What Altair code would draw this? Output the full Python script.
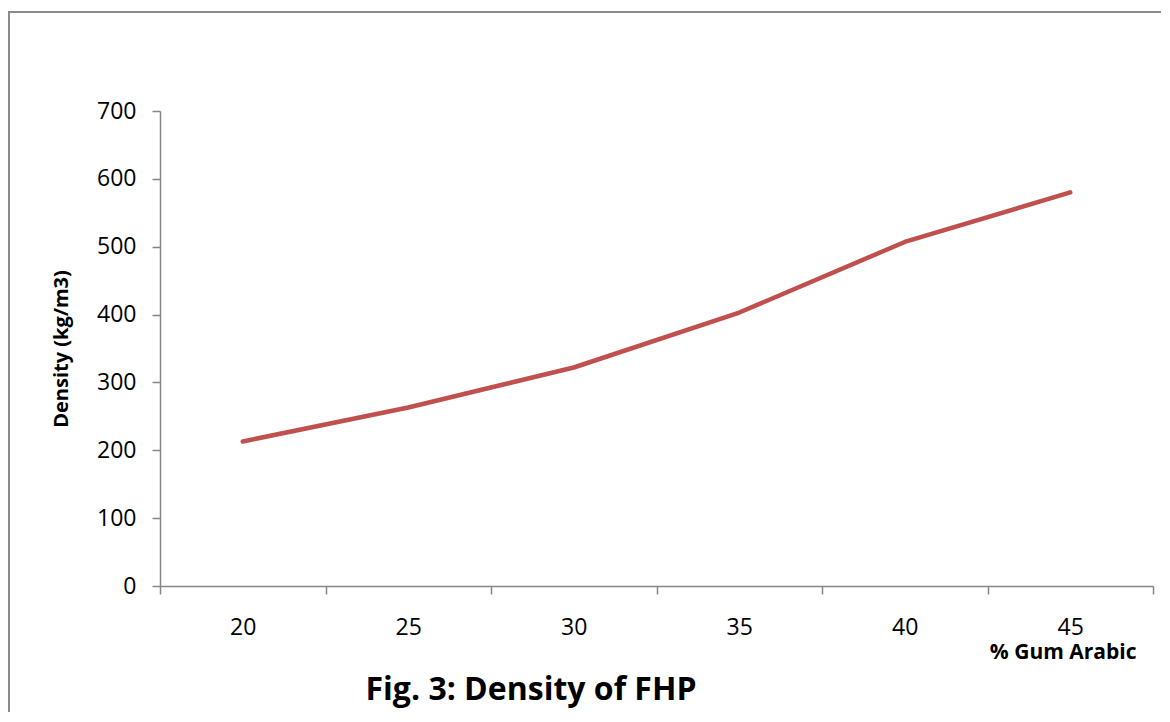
import altair as alt
import pandas as pd

gum_arabic = [20, 25, 30, 35, 40, 45]
density = [213, 263, 322, 403, 507, 580]
y_ticks = [0, 100, 200, 300, 400, 500, 600, 700]
title_text = "Fig. 3: Density of FHP"
x_title = "% Gum Arabic"
y_title = "Density (kg/m3)"

df = pd.DataFrame({"x": gum_arabic, "y": density})
boundaries = [v - 2.5 for v in gum_arabic] + [gum_arabic[-1] + 2.5]
x_axis_values = sorted(boundaries + gum_arabic)

FONT = "Open Sans"
AXIS_COLOR = "#868686"

line = alt.Chart(df).mark_line(color="#C0504D", strokeWidth=4.5, strokeCap="round", strokeJoin="round").encode(
    x=alt.X("x:Q",
            scale=alt.Scale(domain=[boundaries[0], boundaries[-1]], nice=False, zero=False),
            axis=alt.Axis(
                values=x_axis_values,
                title=x_title,
                grid=False,
                tickSize=8,
                tickColor=AXIS_COLOR,
                domainColor=AXIS_COLOR,
                domainWidth=1.5,
                tickWidth=1.5,
                tickOpacity={"condition": {"test": "datum.value % 5 === 0", "value": 0}, "value": 1},
                labelExpr="datum.value % 5 === 0 ? datum.label : ''",
                labelOverlap=False,
                labelFlush=False,
                labelBound=False,
                labelPadding=22,
                labelFont=FONT,
                labelFontSize=23,
                labelColor="#000000",
                titleFont=FONT,
                titleFontSize=21,
                titleFontWeight="bold",
                titleColor="#000000",
                titleAlign="right",
                titleAnchor="end",
                titleBaseline="alphabetic",
                titleX=976,
                titleY=72,
            )),
    y=alt.Y("y:Q",
            scale=alt.Scale(domain=[0, 700], nice=False),
            axis=alt.Axis(
                values=y_ticks,
                title=y_title,
                grid=False,
                tickSize=8,
                tickColor=AXIS_COLOR,
                domainColor=AXIS_COLOR,
                domainWidth=1.5,
                tickWidth=1.5,
                labelPadding=16,
                labelFont=FONT,
                labelFontSize=23,
                labelColor="#000000",
                titleFont=FONT,
                titleFontSize=20,
                titleFontWeight="bold",
                titleColor="#000000",
                titleAngle=270,
                titleAlign="center",
                titleBaseline="middle",
                titleX=-99,
                titleY=237.5,
            )),
)

one = pd.DataFrame({"t": [title_text]})

title = alt.Chart(one).mark_text(
    font=FONT, fontSize=32, fontWeight="bold", align="center", baseline="alphabetic", color="#000000"
).encode(x=alt.value(371), y=alt.value(589), text="t:N")

border_left = alt.Chart(one).mark_rule(color="#8c8c8c", strokeWidth=2).encode(
    x=alt.value(-151), y=alt.value(-99), y2=alt.value(700))
border_top = alt.Chart(one).mark_rule(color="#8c8c8c", strokeWidth=2).encode(
    x=alt.value(-152), x2=alt.value(1100), y=alt.value(-99))

chart = alt.layer(border_left, border_top, line, title).properties(
    width=993, height=475,
    background="white",
    padding={"left": 152, "top": 103, "right": 8, "bottom": 126},
    autosize=alt.AutoSizeParams(type="none"),
).configure_view(strokeWidth=0, stroke="transparent")

chart.save("out.html", embed_options={"renderer": "svg", "actions": False})
